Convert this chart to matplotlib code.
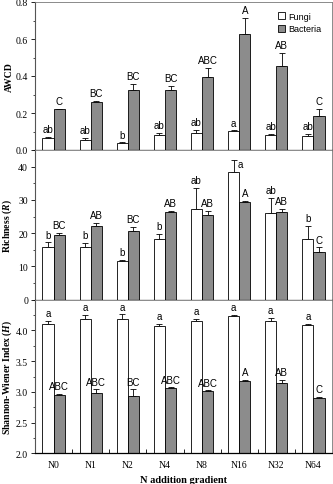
import matplotlib
matplotlib.use('Agg')
import matplotlib.pyplot as plt
import numpy as np

plt.rcParams['font.family'] = 'Liberation Serif'
plt.rcParams['mathtext.fontset'] = 'custom'
plt.rcParams['mathtext.it'] = 'Liberation Serif:italic:bold'

# Data
groups = ['N0', 'N1', 'N2', 'N4', 'N8', 'N16', 'N32', 'N64']

awcd_fungi = [0.065, 0.055, 0.038, 0.082, 0.090, 0.103, 0.082, 0.075]
awcd_fungi_err = [0.006, 0.012, 0.003, 0.009, 0.018, 0.003, 0.004, 0.010]
awcd_bact = [0.220, 0.258, 0.325, 0.325, 0.395, 0.625, 0.455, 0.183]
awcd_bact_err = [0.003, 0.006, 0.032, 0.020, 0.050, 0.088, 0.068, 0.040]
awcd_fungi_lab = ['ab', 'ab', 'b', 'ab', 'ab', 'a', 'ab', 'ab']
awcd_bact_lab = ['C', 'BC', 'BC', 'BC', 'ABC', 'A', 'AB', 'C']

rich_fungi = [15.9, 15.7, 11.5, 18.2, 27.2, 38.4, 26.2, 18.3]
rich_fungi_err = [1.3, 1.3, 0.4, 1.5, 6.3, 3.7, 4.5, 3.9]
rich_bact = [19.4, 22.2, 20.7, 26.5, 25.6, 29.4, 26.5, 14.3]
rich_bact_err = [0.8, 0.8, 1.2, 0.3, 1.2, 0.3, 0.8, 1.4]
rich_fungi_lab = ['b', 'b', 'b', 'b', 'ab', 'a', 'ab', 'b']
rich_bact_lab = ['BC', 'AB', 'BC', 'AB', 'AB', 'A', 'AB', 'C']

sw_fungi = [4.11, 4.19, 4.19, 4.07, 4.15, 4.237, 4.16, 4.09]
sw_fungi_err = [0.05, 0.06, 0.07, 0.04, 0.04, 0.011, 0.04, 0.02]
sw_bact = [2.955, 2.98, 2.94, 3.057, 3.008, 3.17, 3.143, 2.90]
sw_bact_err = [0.01, 0.06, 0.10, 0.016, 0.016, 0.03, 0.057, 0.02]
sw_fungi_lab = ['a'] * 8
sw_bact_lab = ['ABC', 'ABC', 'BC', 'ABC', 'ABC', 'A', 'AB', 'C']

gray = '#8c8c8c'
w = 0.3
x = np.arange(len(groups))
sans = 'Liberation Sans'

fig = plt.figure(figsize=(3.33, 4.85), dpi=100)
L, W = 35 / 333, 297 / 333
ax1 = fig.add_axes([L, 1 - 151 / 485, W, 148 / 485])
ax2 = fig.add_axes([L, 1 - 300.7 / 485, W, 149.7 / 485])
ax3 = fig.add_axes([L, 1 - 454.3 / 485, W, 153.6 / 485])

panels = [
    (ax1, awcd_fungi, awcd_fungi_err, awcd_bact, awcd_bact_err,
     awcd_fungi_lab, awcd_bact_lab, (0, 0.8), 0.2, 0.1, 'AWCD', 0),
    (ax2, rich_fungi, rich_fungi_err, rich_bact, rich_bact_err,
     rich_fungi_lab, rich_bact_lab, (0, 45), 10, 5, r'Richness ($R$)', 0),
    (ax3, sw_fungi, sw_fungi_err, sw_bact, sw_bact_err,
     sw_fungi_lab, sw_bact_lab, (2.0, 4.5), 0.5, 0.25,
     r'Shannon-Wiener Index ($H$)', 2.0),
]

for ax, f, fe, b, be, fl, bl, ylim, major, minor, ylab, base in panels:
    f = np.array(f); b = np.array(b)
    fe = np.array(fe); be = np.array(be)
    ax.bar(x - w / 2, f - base, w, bottom=base, color='white',
           edgecolor='black', linewidth=0.6, label='Fungi', zorder=2)
    ax.bar(x + w / 2, b - base, w, bottom=base, color=gray,
           edgecolor='black', linewidth=0.6, label='Bacteria', zorder=2)
    ax.errorbar(x - w / 2, f, yerr=[np.zeros_like(fe), fe], fmt='none',
                ecolor='black', elinewidth=0.6, capsize=2, capthick=0.6, zorder=1)
    ax.errorbar(x + w / 2, b, yerr=[np.zeros_like(be), be], fmt='none',
                ecolor='black', elinewidth=0.6, capsize=2, capthick=0.6, zorder=1)
    for i in range(len(groups)):
        if ax is ax2 and i == 5:
            # label squeezed beside the cap near the top
            ax.annotate(fl[i], (x[i] - w / 2, f[i] + fe[i]), xytext=(3, -3),
                        textcoords='offset points', ha='left', va='center',
                        fontsize=7, family=sans)
        else:
            ax.annotate(fl[i], (x[i] - w / 2, f[i] + fe[i]), xytext=(0, 2),
                        textcoords='offset points', ha='center', va='bottom',
                        fontsize=7, family=sans)
        ax.annotate(bl[i], (x[i] + w / 2, b[i] + be[i]), xytext=(0, 2),
                    textcoords='offset points', ha='center', va='bottom',
                    fontsize=7, family=sans)
    ax.set_xlim(-0.5, len(groups) - 0.5)
    ax.set_ylim(*ylim)
    top = ylim[1] + 1e-9 if ax is ax1 else ylim[1] - 1e-9
    ax.set_yticks(np.arange(ylim[0], top, major))
    ax.yaxis.set_minor_locator(matplotlib.ticker.MultipleLocator(minor))
    ax.tick_params(axis='y', which='major', direction='out', length=3,
                   width=0.6, labelsize=7, pad=2)
    ax.tick_params(axis='y', which='minor', direction='out', length=1.5, width=0.5)
    ax.set_ylabel(ylab, fontsize=7, fontweight='bold')
    ax.yaxis.set_label_coords(-0.07, 0.5)
    for sk in ['top', 'right']:
        ax.spines[sk].set_color('#777777')
        ax.spines[sk].set_linewidth(0.6)
    ax.spines['left'].set_color('#555555')
    ax.spines['left'].set_linewidth(0.8)
    ax.spines['bottom'].set_linewidth(0.9)

ax1.yaxis.set_major_formatter(matplotlib.ticker.FormatStrFormatter('%.1f'))
ax3.yaxis.set_major_formatter(matplotlib.ticker.FormatStrFormatter('%.1f'))

for ax in [ax1, ax2]:
    ax.set_xticks([])

ax3.set_xticks(x)
ax3.set_xticklabels(groups)
ax3.set_xticks(np.arange(0.5, len(groups) - 0.5), minor=True)
ax3.tick_params(axis='x', which='major', length=0, labelsize=7, pad=5)
ax3.tick_params(axis='x', which='minor', direction='in', length=3, width=0.6)
ax3.set_xlabel('N addition gradient', fontsize=7.5, fontweight='bold', labelpad=4)

ax1.legend(loc='upper right', bbox_to_anchor=(0.99, 0.99), frameon=False,
           prop={'family': sans, 'size': 6.5}, handlelength=0.8,
           handleheight=0.8, handletextpad=0.3, labelspacing=0.4)

fig.savefig('out.png', dpi=100)
